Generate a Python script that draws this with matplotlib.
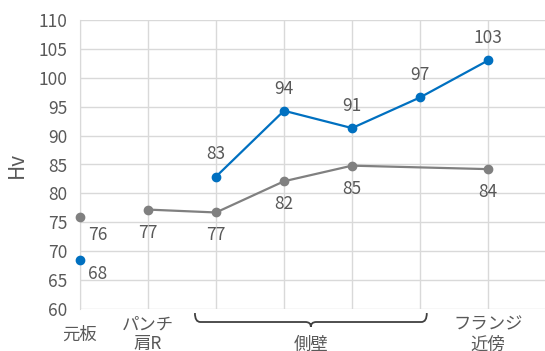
import numpy as np
import matplotlib.pyplot as plt
from matplotlib.path import Path
from matplotlib.patches import PathPatch
import matplotlib.transforms as mtransforms

plt.rcParams['font.family'] = ['Noto Sans CJK JP', 'DejaVu Sans']

categories = ['元板', 'パンチ\n肩R', '', '', '', '', 'フランジ\n近傍']
group_label = '側壁'
gray_vals = [76, 77.2, 76.7, 82.1, 84.8, np.nan, 84.2]
blue_vals = [68.4, np.nan, 82.9, 94.3, 91.3, 96.6, 103.0]

BLUE = '#0070C0'
GRAY = '#808080'
TXT = '#595959'

fig = plt.figure(figsize=(5.45, 3.51), dpi=100)
ax = fig.add_axes([80 / 545, 1 - 309 / 351, 1 - 80 / 545, 289 / 351])

x = np.arange(len(categories))
g = np.array(gray_vals)
b = np.array(blue_vals)

# first point (元板) is not joined to the rest
mg = ~np.isnan(g)
mg[0] = False
ax.plot(x[mg], g[mg], color=GRAY, lw=1.6, marker='o', ms=6, zorder=3)
ax.plot(x[0], g[0], color=GRAY, marker='o', ms=6, zorder=3, clip_on=False)
mb = ~np.isnan(b)
mb[0] = False
ax.plot(x[mb], b[mb], color=BLUE, lw=1.6, marker='o', ms=6, zorder=3)
ax.plot(x[0], b[0], color=BLUE, marker='o', ms=6, zorder=3, clip_on=False)

fs = 12.5
for i, v in enumerate(g):
    if np.isnan(v):
        continue
    off = (12.5, -13) if i == 0 else (0, -16.5)
    ax.annotate(f'{v:.0f}', (i, v), xytext=off, textcoords='offset points',
                ha='center', va='center', color=TXT, fontsize=fs)
for i, v in enumerate(b):
    if np.isnan(v):
        continue
    off = (12.5, -10) if i == 0 else (0, 16)
    ax.annotate(f'{v:.0f}', (i, v), xytext=off, textcoords='offset points',
                ha='center', va='center', color=TXT, fontsize=fs)

ax.set_xlim(0, 465 / 68)
ax.set_ylim(60, 110)
ax.set_yticks(np.arange(60, 111, 5))
ax.set_xticks(x)
ax.set_xticklabels([])
ax.tick_params(axis='x', length=0)
ax.tick_params(axis='y', length=0, pad=9, colors=TXT, labelsize=fs)
ax.grid(True, color='#D9D9D9', lw=1)
ax.set_axisbelow(True)
for s in ['top', 'right', 'bottom']:
    ax.spines[s].set_visible(False)
ax.spines['left'].set_color('#D9D9D9')
ax.set_ylabel('Hv', color=TXT, fontsize=15, labelpad=8)

trans = mtransforms.blended_transform_factory(ax.transData, ax.transAxes)
for i, lab in enumerate(categories):
    if lab:
        ax.text(i, -0.088, lab, transform=trans, ha='center', va='center',
                color=TXT, fontsize=fs, linespacing=1.15)

# brace under the side-wall points
x0, x1 = 1.69, 5.10
xm = (x0 + x1) / 2
yt, ym, yb = -0.014, -0.045, -0.062
c = 0.08
verts = [(x0, yt), (x0, ym), (x0 + c, ym), (xm - c, ym), (xm, ym), (xm, yb),
         (xm, ym), (xm + c, ym), (x1 - c, ym), (x1, ym), (x1, yt)]
codes = [Path.MOVETO, Path.CURVE3, Path.CURVE3, Path.LINETO, Path.CURVE3, Path.CURVE3,
         Path.CURVE3, Path.CURVE3, Path.LINETO, Path.CURVE3, Path.CURVE3]
ax.add_patch(PathPatch(Path(verts, codes), transform=trans, fill=False,
                       edgecolor='#404040', lw=1.3, clip_on=False))
ax.text(3.4, -0.125, group_label, transform=trans, ha='center', va='center',
        color=TXT, fontsize=fs)

fig.savefig('out.png')
